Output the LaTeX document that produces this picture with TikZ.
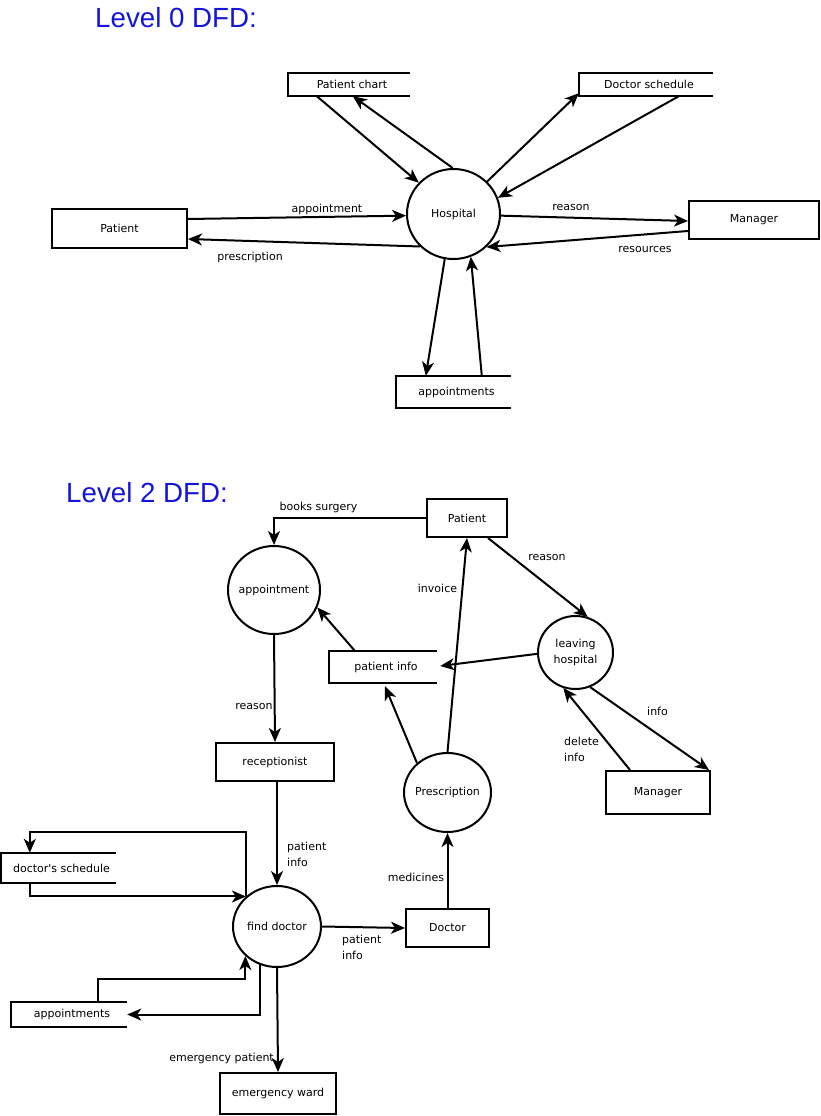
\documentclass[tikz,border=0pt]{standalone}
\usepackage{fontspec}
\newfontfamily\bodyfont{DejaVu Sans}
\newfontfamily\titlefont{Liberation Sans}
\usetikzlibrary{arrows.meta,shapes.geometric,calc}
\definecolor{titleblue}{RGB}{20,20,220}

\begin{document}
\begin{tikzpicture}[x=1pt,y=-1pt,
  every node/.style={font=\bodyfont\fontsize{11}{16}\selectfont, inner sep=0pt},
  line/.style={line width=2pt},
  arr/.style={line width=2pt, -{Stealth[length=14pt,width=12pt,inset=4pt]}},
  entity/.style={draw, line width=2pt, rectangle},
  proc/.style={draw, line width=2pt, ellipse},
  store/.style={rectangle, execute at begin node=\hspace*{6pt}},
  title/.style={font=\titlefont\fontsize{27.7}{30}\selectfont, text=titleblue, anchor=west}]

\useasboundingbox (0,0) rectangle (821,1116);

% ---------------- Level 0 ----------------
\node[title] (t0) at (95,18) {Level 0 DFD:};
\node[proc, minimum width=93, minimum height=90] (hosp) at (453.5,214) {\makebox[0pt]{Hospital}};
\node[entity, minimum width=135, minimum height=39] (pat0) at (119.5,228.5) {Patient};
\node[store, minimum width=122, minimum height=23] (pc) at (349,84.5) {Patient chart};
\node[store, minimum width=134, minimum height=23] (ds) at (646,84.5) {Doctor schedule};
\node[entity, minimum width=130, minimum height=38] (mgr0) at (754,220) {Manager};
\node[store, minimum width=115, minimum height=32] (ap0) at (453.5,392) {appointments};

\draw[arr] ($(pat0.east)+(0,-9.5)$) -- (hosp.182);
\draw[arr] (hosp.224) -- ($(pat0.east)+(0,10.5)$);
\draw[arr] ($(pc.south west)+(29,0)$) -- (hosp.138);
\draw[arr] (hosp.91) -- ($(pc.south west)+(65,0)$);
\draw[arr] (hosp.44) -- ($(ds.south west)+(0,-3)$);
\draw[arr] ($(ds.south west)+(100,0)$) -- (hosp.20);
\draw[arr] (hosp.358) -- ($(mgr0.west)+(0,1)$);
\draw[arr] ($(mgr0.west)+(0,11)$) -- (hosp.315);
\draw[arr] (hosp.259) -- ($(ap0.north west)+(30,0)$);
\draw[arr] ($(ap0.north west)+(86,0)$) -- (hosp.292);

\node (l1) at (327,209) {appointment};
\node (l2) at (250,257) {prescription};
\node (l3) at (571,207) {reason};
\node (l4) at (645,249) {resources};

% ---------------- Level 2 ----------------
\node[title] (t2) at (66,493) {Level 2 DFD:};
\node[entity, minimum width=80, minimum height=38] (pat2) at (467,518) {Patient};
\node[proc, minimum width=92, minimum height=88] (appt) at (274,590) {\makebox[0pt]{appointment}};
\node[store, minimum width=108, minimum height=32] (pinfo) at (383,667) {patient info};
\node[proc, minimum width=75, minimum height=73] (lh) at (575.5,652.5)
  {\makebox[0pt]{\begin{tabular}{@{}c@{}}leaving\\hospital\end{tabular}}};
\node[entity, minimum width=104, minimum height=43] (mgr2) at (658,792.5) {Manager};
\node[proc, minimum width=87, minimum height=79] (presc) at (447.5,792.5) {\makebox[0pt]{Prescription}};
\node[entity, minimum width=83, minimum height=38] (doc) at (447.5,928) {Doctor};
\node[entity, minimum width=118, minimum height=38] (rec) at (275,762) {receptionist};
\node[proc, minimum width=88, minimum height=81] (fd) at (277,926.5) {\makebox[0pt]{find doctor}};
\node[store, minimum width=115, minimum height=30] (dsch) at (58.5,868) {doctor's schedule};
\node[store, minimum width=116, minimum height=25] (ap2) at (69,1014.5) {appointments};
\node[entity, minimum width=116, minimum height=41] (er) at (278,1093.5) {emergency ward};

% open-ended data stores
\foreach \s in {pc,ds,ap0,pinfo,dsch,ap2}
  \draw[line] (\s.north east) -- (\s.north west) -- (\s.south west) -- (\s.south east);

\draw[arr] (pat2.west) -| (appt.north);
\draw[arr] ($(pinfo.north west)+(26,0)$) -- (appt.338);
\draw[arr] ($(pat2.south east)+(-20,0)$) -- (lh.71);
\draw[arr] (lh.182) -- ($(pinfo.east)+(3,-1)$);
\draw[arr] (lh.293) -- ($(mgr2.north east)+(-2,0)$);
\draw[arr] ($(mgr2.north west)+(25,0)$) -- (lh.251);
\draw[arr] (presc.north) -- (pat2.south);
\draw[arr] (presc.136) -- ($(pinfo.south)+(2,3)$);
\draw[arr] (doc.north) -- (presc.south);
\draw[arr] (appt.south) -- (rec.north);
\draw[arr] (rec.south -| fd.north) -- (fd.north);
\draw[arr] (fd.east) -- (doc.west);
\draw[arr] (fd.136) -- ++(0,-64) -| ($(dsch.north west)+(29,0)$);
\draw[arr] ($(dsch.south west)+(29,0)$) |- (fd.136);
\draw[arr] ($(ap2.north west)+(87,0)$) -- ++(0,-23) -| (fd.223);
\draw[arr] (fd.246) |- (ap2.east);
\draw[arr] (fd.south) -- (er.north);

\node (m1) at (318.5,507) {books surgery};
\node (m2) at (437.5,588) {invoice};
\node (m3) at (547,557) {reason};
\node (m4) at (657.5,711) {info};
\node[anchor=west, align=left] (m5) at (564,749) {delete\\info};
\node (m6) at (254,706) {reason};
\node[anchor=west, align=left] (m7) at (287,854) {patient\\info};
\node (m8) at (416,877) {medicines};
\node[anchor=west, align=left] (m9) at (342,947.5) {patient\\info};
\node[anchor=east] (m10) at (274,1058) {emergency patient};
\end{tikzpicture}
\end{document}
